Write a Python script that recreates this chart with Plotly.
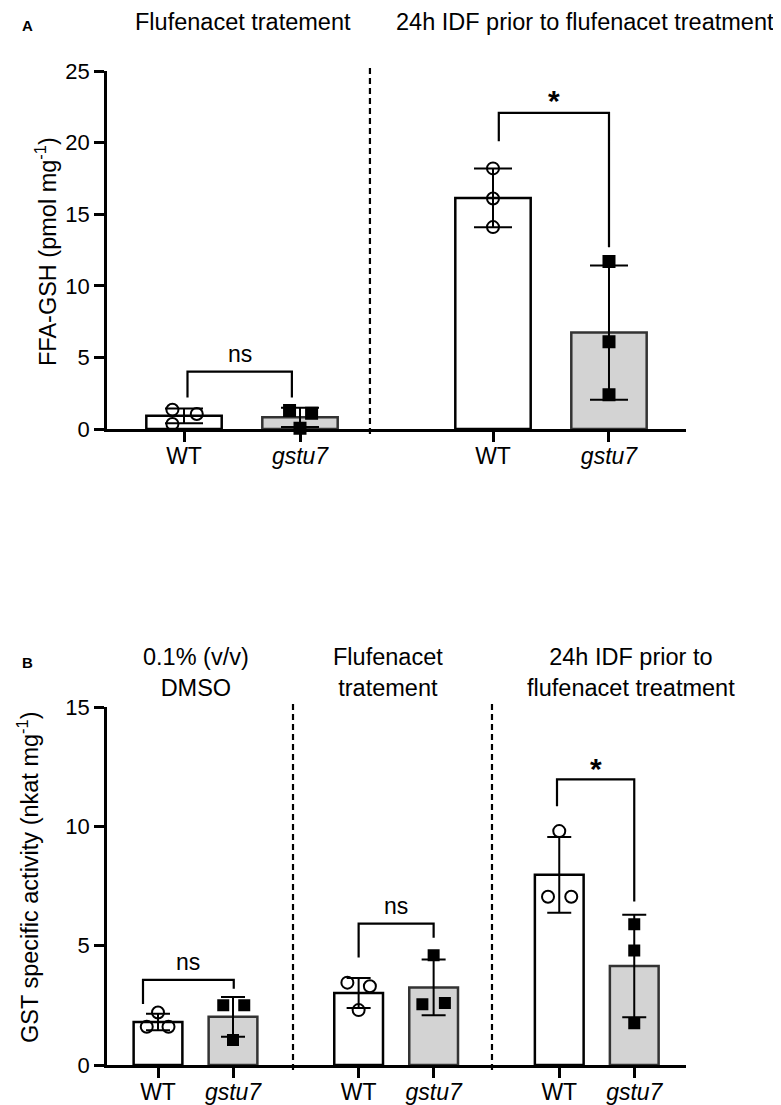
import numpy as np
import plotly.graph_objects as go

# ---------------- data ----------------
genotypes = ["WT", "<i>gstu7</i>"]

# Panel A: FFA-GSH (pmol mg-1)
A_groups = ["Flufenacet tratement", "24h IDF prior to flufenacet treatment"]
A_wt_flu = [1.35, 1.05, 0.35]
A_gs_flu = [1.3, 1.1, 0.05]
A_wt_idf = [18.2, 16.1, 14.1]
A_gs_idf = [11.7, 6.1, 2.4]

# Panel B: GST specific activity (nkat mg-1)
B_groups = ["0.1% (v/v)<br>DMSO", "Flufenacet<br>tratement",
            "24h IDF prior to<br>flufenacet treatment"]
B_wt_dmso = [2.2, 1.6, 1.6]
B_gs_dmso = [2.5, 2.5, 1.05]
B_wt_flu = [3.45, 3.3, 2.3]
B_gs_flu = [4.6, 2.6, 2.55]
B_wt_idf = [9.8, 7.05, 7.05]
B_gs_idf = [5.9, 4.8, 1.75]

# significance labels
A_sig = ["ns", "*"]
B_sig = ["ns", "ns", "*"]

# ---------------- layout constants ----------------
PAGE_W, PAGE_H = 781, 1105
OFF = 8  # default page body margin
W, H = PAGE_W - OFF, PAGE_H - OFF
FONT = "Liberation Sans, Arial, sans-serif"
X0_PX, X1_PX = 107, 686


def px_x(p):
    return (p - OFF) / W


def px_y(p):
    return (H - (p - OFF)) / H


A_dom_y = [px_y(429), px_y(71)]
B_dom_y = [px_y(1065), px_y(707)]
dom_x = [px_x(X0_PX), px_x(X1_PX)]

A_stride = 2.664
B_stride = 2.675
A_range = [-0.664, 4.328]
B_range = [-0.68, 7.04]
A_pos = [0, 1, A_stride, A_stride + 1]
B_pos = [0, 1, B_stride, B_stride + 1, 2 * B_stride, 2 * B_stride + 1]
A_div = [1.603]
B_div = [1.8, 4.453]

# jitter (horizontal spread of replicate points, layout only)
A_jit = [[-0.1, 0.11, -0.1], [-0.09, 0.1, 0.0], [0, 0, 0], [0, 0, 0]]
B_jit = [[0, -0.15, 0.14], [-0.13, 0.15, 0.0], [-0.15, 0.15, 0.0],
         [0, 0.15, -0.15], [0, -0.15, 0.16], [0, 0, 0]]

# brackets: (left offset, right offset, top, left leg end, right leg end) in axis units
A_br = [(0.03, 0.93, 4.0, 2.2, 2.2), (0.05, 1.0, 22.07, 20.1, 12.7)]
B_br = [(-0.2, 1.01, 3.57, 2.56, 3.2), (0.0, 1.0, 5.92, 4.5, 5.33),
        (-0.03, 1.0, 11.97, 10.84, 6.85)]

BAR_W = 0.65
WT_FILL, GS_FILL = "white", "#d3d3d3"
WT_EDGE, GS_EDGE = "black", "#333333"

fig = go.Figure()


def add_panel(series, pos, jit, xa, ya, cap, msize):
    for i, vals in enumerate(series):
        v = np.array(vals, dtype=float)
        mean = v.mean()
        sd = v.std(ddof=1)
        is_wt = (i % 2 == 0)
        fig.add_trace(go.Bar(
            x=[pos[i]], y=[mean], width=BAR_W, xaxis=xa, yaxis=ya,
            marker=dict(color=WT_FILL if is_wt else GS_FILL,
                        line=dict(color=WT_EDGE if is_wt else GS_EDGE, width=2.5)),
            error_y=dict(type="data", array=[sd], visible=True, color="black",
                         thickness=2, width=cap),
            showlegend=False, hoverinfo="skip"))
    for i, vals in enumerate(series):
        is_wt = (i % 2 == 0)
        fig.add_trace(go.Scatter(
            x=[pos[i] + j for j in jit[i]], y=vals, mode="markers",
            xaxis=xa, yaxis=ya, cliponaxis=False,
            marker=dict(symbol="circle-open" if is_wt else "square",
                        size=msize[0] if is_wt else msize[1], color="black",
                        line=dict(color="black", width=2)),
            showlegend=False, hoverinfo="skip"))


def add_brackets(brs, labels, pos, xa, ya, ysh):
    for k, (lo, ro, top, lb, rb) in enumerate(brs):
        xl = pos[2 * k] + lo
        xr = pos[2 * k] + ro
        fig.add_trace(go.Scatter(
            x=[xl, xl, xr, xr], y=[lb, top, top, rb], mode="lines",
            xaxis=xa, yaxis=ya, cliponaxis=False,
            line=dict(color="black", width=2.2),
            showlegend=False, hoverinfo="skip"))
        star = labels[k] == "*"
        fig.add_annotation(
            x=(xl + xr) / 2, y=top, xref=xa, yref=ya,
            text="<b>*</b>" if star else labels[k], showarrow=False,
            xanchor="center", yanchor="bottom", yshift=ysh[1] if star else ysh[0],
            font=dict(family=FONT, size=30 if star else 23, color="black"))


add_panel([A_wt_flu, A_gs_flu, A_wt_idf, A_gs_idf], A_pos, A_jit, "x", "y", 19, (12, 11))
add_panel([B_wt_dmso, B_gs_dmso, B_wt_flu, B_gs_flu, B_wt_idf, B_gs_idf],
          B_pos, B_jit, "x2", "y2", 12, (12, 10))
add_brackets(A_br, A_sig, A_pos, "x", "y", (3, -6))
add_brackets(B_br, B_sig, B_pos, "x2", "y2", (3, -8))

# dashed separators
shapes = []


def to_paper_x(xv, rng):
    return dom_x[0] + (xv - rng[0]) / (rng[1] - rng[0]) * (dom_x[1] - dom_x[0])


for xv in A_div:
    xp = to_paper_x(xv, A_range)
    shapes.append(dict(type="line", xref="paper", yref="paper", x0=xp, x1=xp,
                       y0=px_y(434), y1=px_y(66),
                       line=dict(color="black", width=2.2, dash="6px,4px")))
for xv in B_div:
    xp = to_paper_x(xv, B_range)
    shapes.append(dict(type="line", xref="paper", yref="paper", x0=xp, x1=xp,
                       y0=px_y(1070), y1=px_y(702),
                       line=dict(color="black", width=2.2, dash="6px,4px")))

axis_common = dict(showline=True, linecolor="black", linewidth=2.5, ticks="outside",
                   ticklen=10, tickwidth=2.5, tickcolor="black", showgrid=False,
                   zeroline=False, automargin=False)
xfont = dict(family=FONT, size=23, color="black")
yfont = dict(family=FONT, size=22, color="black")

fig.update_layout(
    template="none",
    width=W, height=H, margin=dict(l=0, r=0, t=0, b=0, pad=0), autosize=False,
    plot_bgcolor="white", paper_bgcolor="white", barmode="overlay",
    font=dict(family=FONT, color="black"),
    shapes=shapes,
    xaxis=dict(domain=dom_x, anchor="y", range=A_range, tickmode="array",
               tickvals=A_pos, ticktext=genotypes * 2, tickfont=xfont,
               ticklabelstandoff=-5, **axis_common),
    yaxis=dict(domain=A_dom_y, anchor="x", range=[0, 25], tickmode="array",
               tickvals=[0, 5, 10, 15, 20, 25], tickfont=yfont, **axis_common),
    xaxis2=dict(domain=dom_x, anchor="y2", range=B_range, tickmode="array",
                tickvals=B_pos, ticktext=genotypes * 3, tickfont=xfont,
                ticklabelstandoff=-5, **axis_common),
    yaxis2=dict(domain=B_dom_y, anchor="x2", range=[0, 15], tickmode="array",
                tickvals=[0, 5, 10, 15], tickfont=yfont, **axis_common),
)

tfont = dict(family=FONT, size=23.5, color="black")


def paper_text(txt, xc, yc, font, angle=0):
    fig.add_annotation(x=px_x(xc), y=px_y(yc), xref="paper", yref="paper", text=txt,
                       showarrow=False, xanchor="center", yanchor="middle",
                       textangle=angle, font=font)


# panel letters
paper_text("<b>A</b>", 27, 25, dict(family=FONT, size=15, color="black"))
paper_text("<b>B</b>", 27, 662, dict(family=FONT, size=15, color="black"))
# group titles
for txt, xc in zip(A_groups, [243, 585]):
    paper_text(txt, xc, 22, tfont)
for txt, xc in zip(B_groups, [196, 388, 631]):
    paper_text(txt, xc, 672, tfont)
# y-axis titles
paper_text("FFA-GSH (pmol mg<sup>-1</sup>)", 46, 252, tfont, -90)
paper_text("GST specific activity (nkat mg<sup>-1</sup>)", 28, 877, tfont, -90)

fig.write_html("out.html")
